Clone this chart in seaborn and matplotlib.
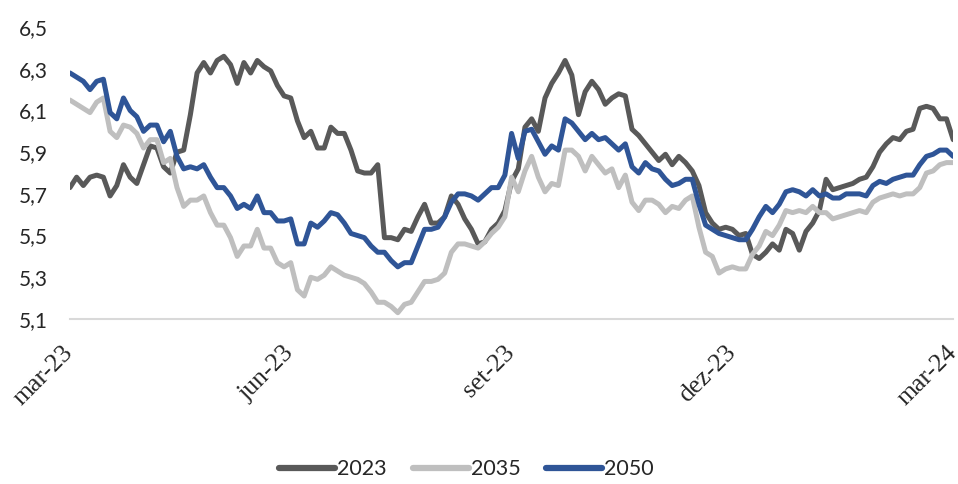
import numpy as np
import pandas as pd
import matplotlib
matplotlib.use("Agg")
import matplotlib.pyplot as plt
from matplotlib.ticker import FuncFormatter
import seaborn as sns

# yields, mar-23 .. mar-24
s2023 = [5.73, 5.78, 5.74, 5.78, 5.79, 5.78, 5.69, 5.74, 5.84, 5.78, 5.75, 5.84, 5.93, 5.92, 5.83, 5.80,
         5.90, 5.91, 6.08, 6.28, 6.33, 6.28, 6.34, 6.36, 6.32, 6.23, 6.33, 6.28, 6.34, 6.31, 6.29, 6.22, 6.17, 6.16, 6.05,
         5.97, 6.00, 5.92, 5.92, 6.02, 5.99, 5.99, 5.91, 5.81, 5.80, 5.80, 5.84, 5.49, 5.49, 5.48, 5.53, 5.52, 5.59, 5.65,
         5.56, 5.56, 5.59, 5.69, 5.65, 5.58, 5.53, 5.46, 5.47, 5.53, 5.56, 5.62, 5.76, 5.82, 6.02, 6.06, 6.00, 6.16, 6.23, 6.28,
         6.34, 6.27, 6.08, 6.19, 6.24, 6.20, 6.13, 6.16, 6.18, 6.17, 6.01, 5.98, 5.94, 5.90, 5.86, 5.89, 5.84, 5.88, 5.85,
         5.81, 5.74, 5.61, 5.56, 5.53, 5.54, 5.53, 5.50, 5.51, 5.41, 5.39, 5.42, 5.46, 5.43, 5.53, 5.51, 5.43, 5.52, 5.56, 5.62,
         5.77, 5.72, 5.73, 5.74, 5.75, 5.77, 5.78, 5.83, 5.90, 5.94, 5.97, 5.96, 6.00, 6.01, 6.11, 6.12, 6.11, 6.06, 6.06, 5.96]

s2035 = [6.15, 6.13, 6.11, 6.09, 6.14, 6.16, 6.00, 5.97, 6.03, 6.02, 5.99, 5.92, 5.96, 5.96, 5.85, 5.87,
         5.73, 5.64, 5.67, 5.67, 5.69, 5.61, 5.55, 5.55, 5.49, 5.40, 5.45, 5.45, 5.53, 5.44, 5.44, 5.37, 5.35, 5.37, 5.24,
         5.21, 5.30, 5.29, 5.31, 5.35, 5.33, 5.31, 5.30, 5.29, 5.27, 5.23, 5.18, 5.18, 5.16, 5.13, 5.17, 5.18, 5.23, 5.28,
         5.28, 5.29, 5.32, 5.42, 5.46, 5.46, 5.45, 5.44, 5.47, 5.51, 5.54, 5.59, 5.78, 5.71, 5.81, 5.88, 5.78, 5.71, 5.75, 5.74,
         5.91, 5.91, 5.88, 5.81, 5.88, 5.84, 5.80, 5.82, 5.73, 5.79, 5.66, 5.62, 5.67, 5.67, 5.65, 5.61, 5.64, 5.63, 5.67,
         5.69, 5.54, 5.42, 5.40, 5.32, 5.34, 5.35, 5.34, 5.34, 5.41, 5.45, 5.52, 5.50, 5.55, 5.62, 5.61, 5.62, 5.61, 5.64, 5.61,
         5.61, 5.58, 5.59, 5.60, 5.61, 5.62, 5.61, 5.66, 5.68, 5.69, 5.70, 5.69, 5.70, 5.70, 5.73, 5.80, 5.81, 5.84, 5.85, 5.85]

s2050 = [6.28, 6.26, 6.24, 6.20, 6.24, 6.25, 6.09, 6.06, 6.16, 6.10, 6.07, 6.00, 6.03, 6.03, 5.95, 6.00,
         5.88, 5.82, 5.83, 5.82, 5.84, 5.78, 5.73, 5.73, 5.69, 5.63, 5.65, 5.63, 5.69, 5.61, 5.61, 5.57, 5.57, 5.58, 5.46,
         5.46, 5.56, 5.54, 5.57, 5.61, 5.60, 5.56, 5.51, 5.50, 5.49, 5.45, 5.42, 5.42, 5.38, 5.35, 5.37, 5.37, 5.45, 5.53,
         5.53, 5.54, 5.59, 5.66, 5.70, 5.70, 5.69, 5.67, 5.70, 5.73, 5.73, 5.79, 5.99, 5.87, 6.00, 6.01, 5.95, 5.89, 5.93, 5.91,
         6.06, 6.04, 6.00, 5.96, 5.99, 5.96, 5.97, 5.94, 5.91, 5.94, 5.83, 5.80, 5.85, 5.82, 5.81, 5.77, 5.74, 5.75, 5.77,
         5.77, 5.65, 5.55, 5.53, 5.51, 5.50, 5.49, 5.48, 5.48, 5.53, 5.59, 5.64, 5.61, 5.65, 5.71, 5.72, 5.71, 5.69, 5.72, 5.69,
         5.70, 5.68, 5.68, 5.70, 5.70, 5.70, 5.69, 5.74, 5.76, 5.75, 5.77, 5.78, 5.79, 5.79, 5.84, 5.88, 5.89, 5.91, 5.91, 5.88]

series_names = ["2023", "2035", "2050"]
colors = {"2023": "#595959", "2035": "#bfbfbf", "2050": "#2f5597"}
tick_labels = ["mar-23", "jun-23", "set-23", "dez-23", "mar-24"]
yticks = [5.1, 5.3, 5.5, 5.7, 5.9, 6.1, 6.3, 6.5]

n = len(s2023)
frames = []
for name, vals in zip(series_names, [s2023, s2035, s2050]):
    frames.append(pd.DataFrame({"idx": np.arange(n), "valor": vals, "serie": name}))
df = pd.concat(frames, ignore_index=True)

sns.set_style("white")
plt.rcParams["font.family"] = ["Lato", "DejaVu Sans"]

fig = plt.figure(figsize=(9.58, 4.84), dpi=100)
ax = fig.add_axes([0.073, 0.341, 0.922, 0.603])

sns.lineplot(data=df, x="idx", y="valor", hue="serie", palette=colors,
             hue_order=series_names, linewidth=3.6, ax=ax)

ax.set_xlim(0, n - 1)
ax.set_ylim(5.1, 6.5)
ax.set_yticks(yticks)
ax.yaxis.set_major_formatter(FuncFormatter(lambda v, p: f"{v:.1f}".replace(".", ",")))
ax.tick_params(axis="y", length=0, pad=16, labelsize=15, labelcolor="#262626")

xt = [(n - 1) * k / 4 for k in range(5)]
ax.set_xticks(xt)
ax.set_xticklabels(tick_labels, rotation=45, ha="right", va="center",
                   rotation_mode="anchor", family="Liberation Serif", fontsize=18.5)
ax.tick_params(axis="x", length=0, pad=22, labelcolor="#262626")

ax.set_xlabel("")
ax.set_ylabel("")
for s in ["top", "right", "left"]:
    ax.spines[s].set_visible(False)
ax.spines["bottom"].set_color("#d9d9d9")
ax.spines["bottom"].set_linewidth(1.5)

handles, labels = ax.get_legend_handles_labels()
ax.get_legend().remove()
leg = fig.legend(handles, labels, loc="lower center", bbox_to_anchor=(0.487, -0.03),
                 ncol=3, frameon=False, fontsize=15.5, handlelength=2.6,
                 handletextpad=0.1, columnspacing=1.2)
for h in leg.get_lines():
    h.set_linewidth(4.5)

fig.savefig("out.png", dpi=100)
